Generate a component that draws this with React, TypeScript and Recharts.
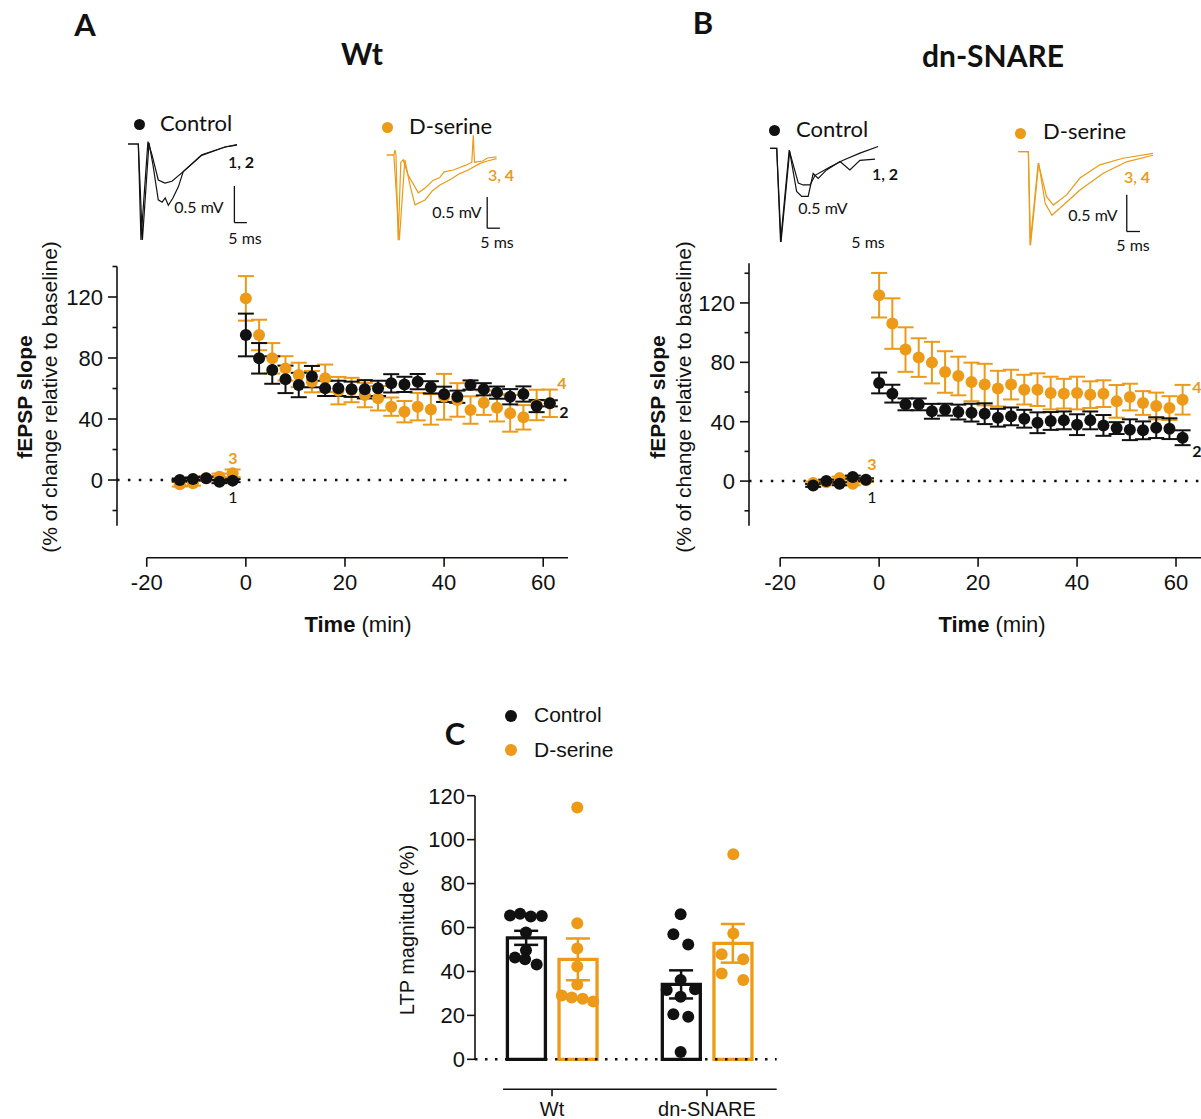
import React from "react";
import {
  ScatterChart,
  Scatter,
  ComposedChart,
  Bar,
  Cell,
  LineChart,
  Line,
  XAxis,
  YAxis,
  ErrorBar,
  ReferenceLine,
} from "recharts";

const INK = "#111";
const ORANGE = "#EC9A17";
const ARIAL = "'Liberation Sans', Arial, sans-serif";
const CALIBRI = "Lato, 'Open Sans', sans-serif";

// sampling times (min), 5 baseline + 24 after induction
const times = [
  -13.33, -10.67, -8, -5.33, -2.67, 0, 2.67, 5.33, 8, 10.67, 13.33, 16, 18.67,
  21.33, 24, 26.67, 29.33, 32, 34.67, 37.33, 40, 42.67, 45.33, 48, 50.67, 53.33,
  56, 58.67, 61.33,
];

// panel A (Wt)
const wtControl = [
  0, 0.7, 1.1, -1.1, -0.4, 95.1, 79.8, 72.1, 66, 62.3, 67.8, 60.1, 60.1, 59.5,
  59.5, 60.1, 63.4, 62.7, 64.5, 60.8, 56.2, 54.6, 62.3, 59.5, 57.3, 54.6, 56.4,
  48.5, 50.3,
];
const wtControlSem = [
  1, 1, 1, 1, 1, 14, 10, 9, 9, 8, 7, 5, 5, 5, 6, 5, 6, 5, 5, 4, 5, 4, 3, 4, 4,
  5, 5, 4, 2,
];
const wtDserine = [
  -2.8, -2.2, 1.1, 2.2, 4.4, 119.1, 95.1, 79.8, 73.2, 68.9, 64.5, 66.7, 58.6,
  59, 55.7, 53.6, 48.1, 44.8, 48.1, 46.3, 54.6, 52.5, 45.9, 50.7, 47.4, 43.7,
  41.1, 49.2, 50.3,
];
const wtDserineSem = [
  1.5, 1.5, 1.5, 2, 2.5, 14.6, 10, 10, 8, 8, 7, 9, 9, 8, 8, 8, 6, 7, 9, 10, 15,
  11, 9, 8, 9, 12, 8, 10, 9,
];

// panel B (dn-SNARE)
const dnControl = [
  -2.9, 0, -1.8, 2.7, 0.9, 66.1, 58.9, 51.7, 51.7, 47, 48.1, 46.5, 46.1, 45.4,
  42.7, 43.6, 42, 39.3, 40.5, 40.9, 38, 40.9, 37.5, 35.7, 34.6, 34.2, 36, 35.3,
  29.2,
];
const dnControlSem = [
  1, 1, 1, 1, 1, 7, 6, 4, 4, 5, 4, 5, 6, 7, 6, 6, 6, 7, 6, 6, 7, 6, 7, 4, 7, 6,
  7, 7, 5,
];
const dnDserine = [
  -1.3, -0.7, 2, -1.8, 0.5, 125.2, 106.1, 88.6, 83.2, 79.8, 73.5, 70.8, 66.8,
  65, 62.3, 65, 61.6, 61.6, 59.3, 58.9, 59.3, 58.2, 58.9, 53.7, 56.6, 52.6,
  50.6, 49.2, 54.8,
];
const dnDserineSem = [
  1, 1, 1, 1, 1, 15, 17, 15, 13, 14, 14, 13, 13, 14, 12, 10, 10, 11, 11, 10, 11,
  9, 9, 11, 9, 8, 9, 8, 10,
];

const timeTicks = [-20, 0, 20, 40, 60];
const slopeTicks = [-20, 0, 20, 40, 60, 80, 100, 120, 140];

// panel C (LTP magnitude, %)
const groupNames = ["Wt", "dn-SNARE"];
const barSlots = ["wt-ctrl", "wt-dser", "gap", "dn-ctrl", "dn-dser"];
const barPositions = [0.833, 1.167, null, 1.833, 2.167];
const barMeans = [55.3, 45.5, null, 34.1, 52.8];
const barSems = [3.2, 9.5, null, 6.4, 8.8];
const ltpTicks = [0, 20, 40, 60, 80, 100, 120];

const wtControlCells = [
  [0.729, 65.5], [0.794, 66.3], [0.863, 65], [0.934, 65.2], [0.832, 57.7],
  [0.832, 49.7], [0.761, 46.3], [0.826, 45.5], [0.901, 43.2],
];
const wtDserineCells = [
  [1.163, 114.6], [1.163, 61.9], [1.163, 50.4], [1.163, 42.2], [1.163, 34.1],
  [1.063, 29.1], [1.127, 28.1], [1.198, 27.6], [1.266, 26.3],
];
const dnControlCells = [
  [1.83, 66], [1.783, 56.9], [1.879, 52.3], [1.83, 36.1], [1.74, 31.5],
  [1.923, 31.9], [1.83, 28.5], [1.783, 20.5], [1.879, 19.4], [1.83, 3.3],
];
const dnDserineCells = [
  [2.17, 93.4], [2.17, 57.3], [2.095, 47.8], [2.234, 45.5], [2.095, 39.1],
  [2.234, 36.1],
];

// example fEPSP traces (ms, mV)
const traceWt1 = [
  [0, 0], [4.3, 0], [5.4, -1.6], [8.3, 0.04], [10, -0.18], [12.6, -0.6],
  [15.4, -0.65], [18.3, -0.62], [23, -0.46], [30.7, -0.18], [40.4, -0.05],
  [45.3, -0.02],
];
const traceWt2 = [
  [0, 0], [4.3, 0], [6, -1.6], [8.75, 0.02], [10.4, -0.35], [12.6, -0.93],
  [14.2, -0.97], [15.5, -0.9], [16.8, -1.02], [18.7, -0.9], [21, -0.71],
  [23, -0.46], [30.7, -0.19], [40.4, -0.05], [45.4, -0.01],
];
const traceWt3 = [
  [0, 0], [3, 0], [3.5, 0.08], [3.9, 0], [4.8, -1.42], [5.9, -0.12],
  [6.9, -0.08], [8.9, -0.33], [13.2, -0.63], [16, -0.55], [19.4, -0.42],
  [22, -0.38], [24, -0.28], [27.8, -0.25], [31, -0.2], [33, -0.17],
  [35.5, -0.12], [36.1, 0.33], [36.6, -0.12], [40, -0.1], [42, -0.05],
  [45.8, -0.03],
];
const traceWt4 = [
  [0, 0], [3, 0], [5.3, -1.42], [7.6, -0.08], [9.7, -0.5], [11.8, -0.83],
  [16, -0.75], [19, -0.6], [22.2, -0.5], [26, -0.42], [30.5, -0.31],
  [34, -0.25], [38.9, -0.14], [42, -0.1], [45.8, -0.06],
];
const traceDn1 = [
  [0, 0], [2.8, 0], [4.4, -1.56], [8, -0.03], [11.8, -0.58], [13.8, -0.61],
  [16.7, -0.61], [18.8, -0.45], [25, -0.31], [30.5, -0.2], [37.5, -0.08],
  [45.1, 0.03],
];
const traceDn2 = [
  [0, 0], [2.8, 0], [4.6, -1.56], [8.2, -0.05], [11.1, -0.72], [13.2, -0.8],
  [15.9, -0.8], [18, -0.42], [20.1, -0.5], [23.6, -0.36], [29.2, -0.22],
  [33.3, -0.36], [37.5, -0.2], [43.8, -0.18],
];
const traceDn3 = [
  [0, 0], [4.2, 0], [4.9, -1.56], [8.3, -0.19], [11.8, -0.75], [14.6, -0.89],
  [20.1, -0.72], [25.7, -0.44], [34, -0.22], [43.6, -0.11], [56.1, -0.03],
];
const traceDn4 = [
  [0, 0], [4.2, 0], [5.1, -1.56], [8.5, -0.19], [11.2, -0.86], [14, -1.06],
  [18.8, -0.89], [25.7, -0.64], [35.4, -0.36], [45.1, -0.17], [56.1, -0.06],
];

const series = (means: number[], sems: number[]) =>
  times.map((t, i) => ({ t, v: means[i], e: sems[i] }));
const cells = (p: number[][]) => p.map(([x, y]) => ({ x, y }));
const trace = (p: number[][]) => p.map(([t, v]) => ({ t, v }));

const bars = barSlots.map((slot, i) => ({
  slot,
  x: barPositions[i],
  mean: barMeans[i],
  sem: barSems[i],
}));
const ctrlBars = bars.filter((b) => b.slot.endsWith("ctrl"));
const dserBars = bars.filter((b) => b.slot.endsWith("dser"));

const dot = (fill: string, r = 6) => (p: any) =>
  <circle cx={p.cx} cy={p.cy} r={r} fill={fill} />;
const none = () => <g />;

const TICK = 9;
const GAP = 5;
function SlopeTick(props: any) {
  const { x, y, payload } = props;
  const ax = x + TICK + GAP;
  const major = payload.value % 40 === 0;
  return (
    <g>
      <line x1={ax - (major ? TICK : 4.5)} x2={ax} y1={y} y2={y} stroke={INK} strokeWidth={1.6} />
      {major && (
        <text x={x} y={y} dy="0.36em" textAnchor="end" fontSize={22} fontFamily={ARIAL} fill={INK}>
          {payload.value}
        </text>
      )}
    </g>
  );
}

function Txt({ x, y, size, bold, color = INK, font = ARIAL, rotate, start, children }: any) {
  return (
    <div
      style={{
        position: "absolute",
        left: x,
        top: y,
        transform: `translate(${start ? "0" : "-50%"},-50%)${rotate ? " rotate(-90deg)" : ""}`,
        fontSize: size,
        fontWeight: bold ? 700 : 400,
        color,
        fontFamily: font,
        whiteSpace: "nowrap",
        lineHeight: 1,
      }}
    >
      {children}
    </div>
  );
}

function Dot({ x, y, r, color }: any) {
  return (
    <div
      style={{
        position: "absolute",
        left: x - r,
        top: y - r,
        width: r * 2,
        height: r * 2,
        borderRadius: "50%",
        background: color,
      }}
    />
  );
}

function TimeCourse({ left, width, margin, xDomain, yDomain, yTop, ctrl, dser }: any) {
  const axisStroke = { stroke: INK, strokeWidth: 1.6 };
  return (
    <div style={{ position: "absolute", left, top: 250 }}>
      <ScatterChart width={width} height={350} margin={margin}>
        <XAxis
          type="number"
          dataKey="t"
          domain={xDomain}
          allowDataOverflow
          ticks={timeTicks}
          interval={0}
          axisLine={false}
          tickSize={9}
          tickMargin={8}
          tickLine={axisStroke}
          tick={{ fontSize: 22, fill: INK, fontFamily: ARIAL }}
          height={40}
        />
        <YAxis
          type="number"
          domain={yDomain}
          allowDataOverflow
          ticks={slopeTicks}
          interval={0}
          width={60}
          axisLine={false}
          tickLine={false}
          tickSize={TICK}
          tickMargin={GAP}
          tick={<SlopeTick />}
        />
        <ReferenceLine
          ifOverflow="visible"
          segment={[{ x: xDomain[0], y: -30 }, { x: xDomain[0], y: yTop }]}
          {...axisStroke}
        />
        <ReferenceLine
          ifOverflow="visible"
          segment={[{ x: -20, y: yDomain[0] }, { x: xDomain[1], y: yDomain[0] }]}
          {...axisStroke}
        />
        <ReferenceLine y={0} stroke={INK} strokeWidth={2.5} strokeDasharray="2.5 8.4" />
        <Scatter data={dser} dataKey="v" isAnimationActive={false} shape={dot(ORANGE)}>
          <ErrorBar dataKey="e" direction="y" width={8} stroke={ORANGE} strokeWidth={2} />
        </Scatter>
        <Scatter data={ctrl} dataKey="v" isAnimationActive={false} shape={dot(INK)}>
          <ErrorBar dataKey="e" direction="y" width={8} stroke={INK} strokeWidth={2} />
        </Scatter>
      </ScatterChart>
    </div>
  );
}

function Trace({ left, top, width, height, xDomain, yDomain, a, b, color, bar }: any) {
  return (
    <div style={{ position: "absolute", left, top }}>
      <LineChart width={width} height={height} margin={{ top: 0, right: 0, bottom: 0, left: 0 }}>
        <XAxis type="number" dataKey="t" domain={xDomain} allowDataOverflow hide />
        <YAxis type="number" domain={yDomain} allowDataOverflow hide />
        <Line data={trace(a)} dataKey="v" stroke={color} strokeWidth={1.2} dot={false} isAnimationActive={false} />
        <Line data={trace(b)} dataKey="v" stroke={color} strokeWidth={1.2} dot={false} isAnimationActive={false} />
        {bar && (
          <ReferenceLine
            ifOverflow="visible"
            segment={[{ x: bar[0], y: bar[1] }, { x: bar[0], y: bar[2] }]}
            stroke={INK}
            strokeWidth={1.3}
          />
        )}
        {bar && (
          <ReferenceLine
            ifOverflow="visible"
            segment={[{ x: bar[0], y: bar[2] }, { x: bar[3], y: bar[2] }]}
            stroke={INK}
            strokeWidth={1.3}
          />
        )}
      </LineChart>
    </div>
  );
}

function Ltp() {
  const axisStroke = { stroke: INK, strokeWidth: 1.6 };
  const xDomain = [0.503, 2.45];
  const yDomain = [-13.65, 120];
  return (
    <div style={{ position: "absolute", left: 380, top: 780 }}>
      <ComposedChart
        width={420}
        height={339}
        data={bars}
        margin={{ top: 15.7, right: 23.3, bottom: 0, left: 35 }}
      >
        <XAxis
          type="number"
          dataKey="x"
          domain={xDomain}
          allowDataOverflow
          ticks={[1, 2]}
          interval={0}
          tickFormatter={(v: number) => groupNames[Math.round(v) - 1]}
          axisLine={false}
          tickSize={7}
          tickMargin={5}
          tickLine={axisStroke}
          tick={{ fontSize: 20, fill: INK, fontFamily: ARIAL }}
          height={29.7}
        />
        <XAxis
          xAxisId="slots"
          type="category"
          dataKey="slot"
          hide
          padding={{ left: 25.4, right: 18.1 }}
        />
        <YAxis
          type="number"
          domain={yDomain}
          allowDataOverflow
          ticks={ltpTicks}
          interval={0}
          width={60}
          axisLine={false}
          tickSize={8}
          tickMargin={2}
          tickLine={axisStroke}
          tick={{ fontSize: 22, fill: INK, fontFamily: ARIAL }}
        />
        <ReferenceLine
          ifOverflow="visible"
          segment={[{ x: xDomain[0], y: 0 }, { x: xDomain[0], y: 120 }]}
          {...axisStroke}
        />
        <ReferenceLine
          ifOverflow="visible"
          segment={[{ x: 0.684, y: yDomain[0] }, { x: xDomain[1], y: yDomain[0] }]}
          {...axisStroke}
        />
        <ReferenceLine y={0} stroke={INK} strokeWidth={2.5} strokeDasharray="2.5 7.5" />
        <Bar
          xAxisId="slots"
          dataKey="mean"
          barSize={38}
          fill="#fff"
          strokeWidth={3.3}
          isAnimationActive={false}
        >
          {bars.map((b, i) => (
            <Cell key={i} stroke={b.slot.endsWith("ctrl") ? INK : ORANGE} />
          ))}
        </Bar>
        <Scatter data={cells(wtControlCells)} dataKey="y" shape={dot(INK)} isAnimationActive={false} />
        <Scatter data={cells(dnControlCells)} dataKey="y" shape={dot(INK)} isAnimationActive={false} />
        <Scatter data={cells(wtDserineCells)} dataKey="y" shape={dot(ORANGE)} isAnimationActive={false} />
        <Scatter data={cells(dnDserineCells)} dataKey="y" shape={dot(ORANGE)} isAnimationActive={false} />
        <Scatter data={ctrlBars} dataKey="mean" shape={none} isAnimationActive={false}>
          <ErrorBar dataKey="sem" direction="y" width={12} stroke={INK} strokeWidth={2.5} />
        </Scatter>
        <Scatter data={dserBars} dataKey="mean" shape={none} isAnimationActive={false}>
          <ErrorBar dataKey="sem" direction="y" width={12} stroke={ORANGE} strokeWidth={2.5} />
        </Scatter>
      </ComposedChart>
    </div>
  );
}

function SlopeLabel({ x1, x2 }: any) {
  return (
    <>
      <Txt x={x1} y={397} size={21} bold rotate>
        fEPSP slope
      </Txt>
      <Txt x={x2} y={397} size={21} rotate>
        (% of change relative to baseline)
      </Txt>
    </>
  );
}

function TimeLabel({ x }: any) {
  return (
    <Txt x={x} y={625} size={22}>
      <b>Time</b> (min)
    </Txt>
  );
}

function Pair({ x, y, color, a, b }: any) {
  return (
    <Txt x={x} y={y} size={16} font={CALIBRI} color={color}>
      <span style={{ fontWeight: 600 }}>{a}, </span>
      <b>{b}</b>
    </Txt>
  );
}

export default function App() {
  return (
    <div
      style={{
        position: "absolute",
        left: 0,
        top: 0,
        width: 1201,
        height: 1119,
        overflow: "hidden",
        background: "#fff",
      }}
    >
      {/* titles */}
      <Txt x={85} y={24} size={31} bold font={CALIBRI}>A</Txt>
      <Txt x={362} y={53} size={30} bold font={CALIBRI}>Wt</Txt>
      <Txt x={703} y={22} size={31} bold font={CALIBRI}>B</Txt>
      <Txt x={993} y={55} size={30} bold font={CALIBRI}>dn-SNARE</Txt>
      <Txt x={455} y={733} size={31} bold font={CALIBRI}>C</Txt>

      {/* trace legends */}
      <Dot x={139} y={124} r={5.5} color={INK} />
      <Txt x={160} y={123} size={22} font={CALIBRI} start>Control</Txt>
      <Dot x={387} y={127} r={5.5} color={ORANGE} />
      <Txt x={409} y={126} size={22} font={CALIBRI} start>D-serine</Txt>
      <Dot x={774} y={130} r={5.5} color={INK} />
      <Txt x={796} y={129} size={22} font={CALIBRI} start>Control</Txt>
      <Dot x={1020} y={133} r={5.5} color={ORANGE} />
      <Txt x={1043} y={131} size={22} font={CALIBRI} start>D-serine</Txt>

      {/* traces */}
      <Trace left={126} top={138} width={124} height={104} xDomain={[-0.83, 50.8]} yDomain={[-1.633, 0.1]}
        a={traceWt1} b={traceWt2} color={INK} bar={[44.3, -0.7, -1.31, 49.5]} />
      <Trace left={384} top={132} width={120} height={110} xDomain={[-1.1, 48.9]} yDomain={[-1.45, 0.383]}
        a={traceWt3} b={traceWt4} color={ORANGE} bar={[41.9, -0.7, -1.22, 47.2]} />
      <Trace left={767} top={142} width={115} height={103} xDomain={[-1.25, 46.7]} yDomain={[-1.61, 0.105]}
        a={traceDn1} b={traceDn2} color={INK} />
      <Trace left={1015} top={145} width={142} height={105} xDomain={[-1.375, 57.8]} yDomain={[-1.638, 0.11]}
        a={traceDn3} b={traceDn4} color={ORANGE} bar={[45.2, -0.72, -1.33, 50.7]} />

      <Txt x={199} y={207} size={16} font={CALIBRI}>0.5 mV</Txt>
      <Txt x={245} y={238} size={16} font={CALIBRI}>5 ms</Txt>
      <Pair x={241} y={162} color={INK} a="1" b="2" />
      <Txt x={457} y={212} size={16} font={CALIBRI}>0.5 mV</Txt>
      <Txt x={497} y={242} size={16} font={CALIBRI}>5 ms</Txt>
      <Pair x={501} y={175} color={ORANGE} a="3" b="4" />
      <Txt x={823} y={208} size={16} font={CALIBRI}>0.5 mV</Txt>
      <Txt x={868} y={242} size={16} font={CALIBRI}>5 ms</Txt>
      <Pair x={885} y={174} color={INK} a="1" b="2" />
      <Txt x={1093} y={215} size={16} font={CALIBRI}>0.5 mV</Txt>
      <Txt x={1133} y={245} size={16} font={CALIBRI}>5 ms</Txt>
      <Pair x={1137} y={177} color={ORANGE} a="3" b="4" />

      {/* time courses */}
      <TimeCourse
        left={0}
        width={600}
        margin={{ top: 16.5, right: 32, bottom: 2.2, left: 57 }}
        xDomain={[-26, 65]}
        yDomain={[-51, 140]}
        yTop={140}
        ctrl={series(wtControl, wtControlSem)}
        dser={series(wtDserine, wtDserineSem)}
      />
      <TimeCourse
        left={620}
        width={600}
        margin={{ top: 13.3, right: 14.3, bottom: 2.3, left: 69 }}
        xDomain={[-26.3, 66]}
        yDomain={[-51.6, 146.7]}
        yTop={146.7}
        ctrl={series(dnControl, dnControlSem)}
        dser={series(dnDserine, dnDserineSem)}
      />
      <SlopeLabel x1={24} x2={49} />
      <SlopeLabel x1={657} x2={683} />
      <TimeLabel x={358} />
      <TimeLabel x={992} />

      <Txt x={233} y={458} size={16} font={CALIBRI} color={ORANGE} bold>3</Txt>
      <Txt x={233} y={497} size={16} font={CALIBRI}>1</Txt>
      <Txt x={562} y={383} size={16} font={CALIBRI} color={ORANGE} bold>4</Txt>
      <Txt x={564} y={412} size={16} font={CALIBRI} bold>2</Txt>
      <Txt x={872} y={464} size={16} font={CALIBRI} color={ORANGE} bold>3</Txt>
      <Txt x={872} y={497} size={16} font={CALIBRI}>1</Txt>
      <Txt x={1197} y={387} size={16} font={CALIBRI} color={ORANGE} bold>4</Txt>
      <Txt x={1197} y={451} size={16} font={CALIBRI} bold>2</Txt>

      {/* panel C */}
      <Dot x={511} y={716} r={6} color={INK} />
      <Txt x={534} y={714} size={21} start>Control</Txt>
      <Dot x={511} y={750} r={6} color={ORANGE} />
      <Txt x={534} y={749} size={21} start>D-serine</Txt>
      <Txt x={407} y={930} size={20} rotate>LTP magnitude (%)</Txt>
      <Ltp />
    </div>
  );
}
